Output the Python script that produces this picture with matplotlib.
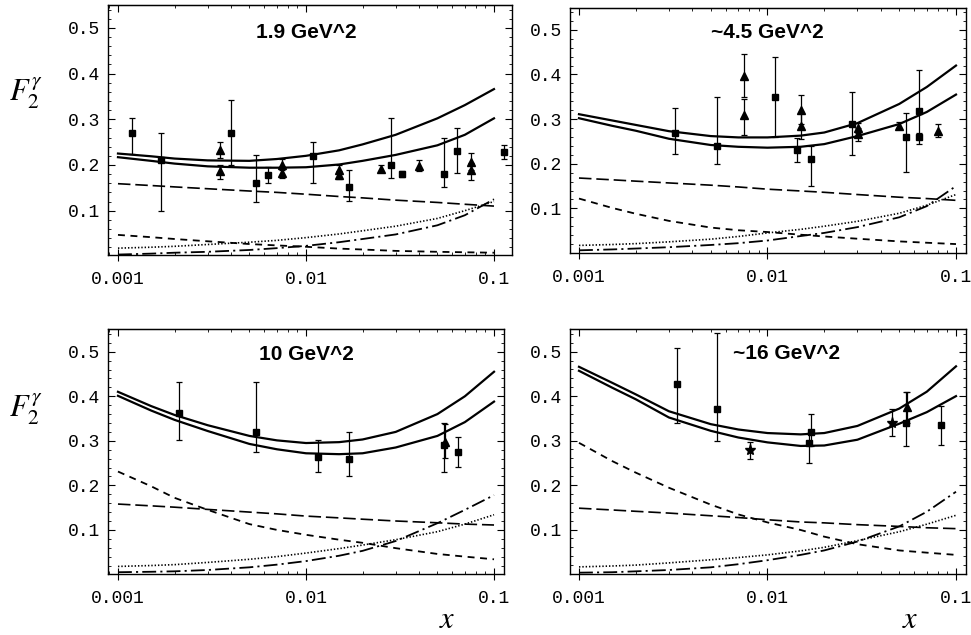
import matplotlib
matplotlib.use('Agg')
import matplotlib.pyplot as plt
from matplotlib.ticker import FixedLocator, NullFormatter, LogLocator, MultipleLocator, FixedFormatter
import numpy as np

plt.rcParams['lines.scale_dashes'] = False
plt.rcParams['mathtext.fontset'] = 'stix'

xg = [0.001, 0.0015, 0.002, 0.003, 0.005, 0.007, 0.01, 0.015, 0.02, 0.03, 0.05, 0.07, 0.1]

panel_labels = ['1.9 GeV^2', '~4.5 GeV^2', '10 GeV^2', '~16 GeV^2']

# theory curves, one list per panel
upper = [
    [.225, .219, .214, .210, .209, .213, .220, .232, .245, .266, .302, .331, .366],
    [.311, .297, .287, .273, .262, .259, .259, .263, .270, .291, .334, .372, .420],
    [.410, .378, .358, .335, .311, .301, .295, .297, .303, .320, .360, .400, .455],
    [.466, .430, .404, .366, .337, .325, .317, .314, .317, .333, .372, .410, .467],
]
lower = [
    [.217, .209, .203, .197, .194, .194, .195, .201, .209, .222, .243, .266, .302],
    [.302, .285, .274, .256, .242, .238, .236, .238, .244, .262, .289, .316, .355],
    [.401, .368, .347, .322, .293, .281, .272, .270, .272, .285, .311, .342, .388],
    [.457, .419, .393, .352, .322, .307, .296, .288, .289, .302, .338, .364, .400],
]
long_dash = [
    [.159, .155, .152, .148, .143, .140, .136, .131, .128, .123, .118, .114, .110],
    [.168, .164, .161, .157, .152, .148, .143, .139, .136, .131, .125, .122, .118],
    [.158, .154, .151, .146, .140, .136, .131, .127, .124, .120, .116, .113, .111],
    [.148, .144, .141, .137, .131, .127, .122, .117, .115, .111, .107, .104, .102],
]
short_dash = [
    [.047, .042, .038, .033, .027, .024, .021, .017, .015, .012, .010, .009, .008],
    [.122, .101, .088, .072, .057, .051, .047, .041, .037, .032, .026, .023, .020],
    [.231, .198, .172, .145, .113, .100, .089, .078, .071, .059, .046, .040, .034],
    [.295, .254, .228, .194, .156, .134, .116, .099, .084, .067, .053, .048, .043],
]
dotted = [
    [.018, .020, .022, .026, .031, .035, .041, .049, .056, .066, .083, .100, .120],
    [.017, .019, .021, .025, .031, .037, .045, .053, .060, .071, .089, .107, .131],
    [.018, .020, .022, .027, .034, .040, .048, .058, .066, .078, .096, .113, .134],
    [.016, .018, .020, .025, .032, .037, .043, .052, .060, .075, .095, .112, .132],
]
dash_dot = [
    [.004, .006, .008, .010, .014, .018, .023, .031, .038, .048, .068, .090, .125],
    [.006, .008, .010, .013, .018, .022, .028, .038, .045, .058, .080, .105, .150],
    [.005, .006, .007, .010, .016, .022, .030, .042, .053, .075, .115, .145, .178],
    [.003, .004, .006, .009, .015, .022, .031, .043, .053, .073, .107, .140, .185],
]

# data points: squares
sq_x = [
    [0.00119, 0.0017, 0.00397, 0.0054, 0.0063, 0.0109, 0.017, 0.0282, 0.0325, 0.0542, 0.0638, 0.113],
    [0.00322, 0.00542, 0.01096, 0.01435, 0.0171, 0.0281, 0.0545, 0.0634, 0.064],
    [0.0021, 0.0054, 0.01164, 0.017, 0.0544, 0.0646],
    [0.00331, 0.00542, 0.0166, 0.0171, 0.0545, 0.083],
]
sq_y = [
    [0.269, 0.211, 0.270, 0.161, 0.178, 0.220, 0.151, 0.200, 0.180, 0.180, 0.231, 0.229],
    [0.269, 0.239, 0.349, 0.231, 0.210, 0.290, 0.260, 0.319, 0.260],
    [0.362, 0.319, 0.263, 0.259, 0.291, 0.276],
    [0.427, 0.370, 0.294, 0.320, 0.339, 0.335],
]
sq_lo = [
    [0.224, 0.100, 0.200, 0.120, 0.161, 0.161, 0.121, 0.171, 0.174, 0.151, 0.182, 0.213],
    [0.222, 0.199, 0.260, 0.205, 0.151, 0.219, 0.181, 0.255, 0.244],
    [0.302, 0.276, 0.229, 0.221, 0.231, 0.241],
    [0.339, 0.299, 0.250, 0.288, 0.288, 0.290],
]
sq_hi = [
    [0.302, 0.270, 0.342, 0.222, 0.196, 0.251, 0.190, 0.302, 0.186, 0.260, 0.280, 0.244],
    [0.325, 0.349, 0.440, 0.257, 0.239, 0.360, 0.313, 0.410, 0.270],
    [0.433, 0.431, 0.302, 0.319, 0.339, 0.309],
    [0.508, 0.541, 0.318, 0.359, 0.410, 0.378],
]

# triangles
tr_x = [
    [0.00349, 0.00349, 0.0075, 0.0075, 0.015, 0.015, 0.025, 0.040, 0.0752, 0.0752],
    [0.0075, 0.0075, 0.015, 0.015, 0.0302, 0.0302, 0.0499, 0.080],
    [0.055],
    [0.055],
]
tr_y = [
    [0.233, 0.187, 0.200, 0.183, 0.190, 0.178, 0.192, 0.198, 0.207, 0.189],
    [0.396, 0.310, 0.321, 0.285, 0.280, 0.267, 0.285, 0.274],
    [0.298],
    [0.375],
]
tr_lo = [
    [0.215, 0.169, 0.188, 0.171, 0.180, 0.170, 0.185, 0.186, 0.190, 0.167],
    [0.349, 0.265, 0.290, 0.255, 0.268, 0.250, 0.277, 0.259],
    [0.262],
    [0.339],
]
tr_hi = [
    [0.251, 0.200, 0.212, 0.195, 0.200, 0.186, 0.199, 0.210, 0.227, 0.205],
    [0.446, 0.345, 0.353, 0.315, 0.292, 0.280, 0.293, 0.289],
    [0.338],
    [0.410],
]

# stars (only in the last panel)
st_x = [0.00804, 0.0457]
st_y = [0.279, 0.340]
st_lo = [0.258, 0.310]
st_hi = [0.297, 0.370]

W, H = 971, 635
fig = plt.figure(figsize=(W / 100, H / 100), dpi=100)

# panel boxes in pixels: left, top, right, bottom
boxes = [(108, 5, 512, 255), (570, 8, 966, 253), (108, 329, 504, 574), (570, 329, 966, 574)]
ylims = [(0.003, 0.55), (0.0, 0.549), (0.001, 0.551), (0.0, 0.551)]
xlims = [(0.000885, 0.1247), (0.000896, 0.113), (0.000885, 0.113), (0.000896, 0.113)]
title_pos = [(0.01, 0.489), (0.01, 0.493), (0.01, 0.493), (0.0127, 0.497)]

mono = 'Liberation Mono'

def errbar(ax, x, y, lo, hi, fmt, ms):
    x = np.array(x); y = np.array(y); lo = np.array(lo); hi = np.array(hi)
    ax.errorbar(x, y, yerr=[y - lo, hi - y], fmt=fmt, ms=ms, color='k', mec='k',
                ecolor='k', elinewidth=0.9, capsize=2.2, capthick=0.9, zorder=5)

for i in range(4):
    l, t, r, b = boxes[i]
    ax = fig.add_axes([l / W, 1 - b / H, (r - l) / W, (b - t) / H])
    ax.set_xscale('log')
    ax.set_xlim(*xlims[i])
    ax.set_ylim(*ylims[i])

    ax.plot(xg, upper[i], color='k', lw=1.6)
    ax.plot(xg, lower[i], color='k', lw=1.6)
    ax.plot(xg, long_dash[i], color='k', lw=1.2, dashes=(9, 3.5))
    ax.plot(xg, short_dash[i], color='k', lw=1.3, dashes=(5, 4))
    ax.plot(xg, dotted[i], color='k', lw=1.2, dashes=(1.0, 1.4))
    ax.plot(xg, dash_dot[i], color='k', lw=1.3, dashes=(10, 3, 1.5, 3))

    errbar(ax, sq_x[i], sq_y[i], sq_lo[i], sq_hi[i], 's', 5)
    errbar(ax, tr_x[i], tr_y[i], tr_lo[i], tr_hi[i], '^', 6)
    if i == 3:
        errbar(ax, st_x, st_y, st_lo, st_hi, '*', 8)

    tx, ty = title_pos[i]
    ax.text(tx, ty, panel_labels[i], ha='center', va='center', fontsize=15,
            fontweight='bold', family='Liberation Sans')

    # ticks
    ax.xaxis.set_major_locator(FixedLocator([0.001, 0.01, 0.1]))
    ax.xaxis.set_major_formatter(FixedFormatter(['0.001', '0.01', '0.1']))
    ax.xaxis.set_minor_locator(LogLocator(base=10, subs=np.arange(2, 10)))
    ax.xaxis.set_minor_formatter(NullFormatter())
    ax.yaxis.set_major_locator(FixedLocator([0.1, 0.2, 0.3, 0.4, 0.5]))
    ax.yaxis.set_major_formatter(FixedFormatter(['0.1', '0.2', '0.3', '0.4', '0.5']))
    ax.yaxis.set_minor_locator(MultipleLocator(0.02))
    ax.tick_params(axis='x', which='major', direction='inout', length=9, width=0.8,
                   top=False, labelsize=13, pad=7)
    ax.tick_params(axis='x', which='minor', direction='in', length=2.5, width=0.6, top=False)
    ax.tick_params(axis='y', which='major', direction='in', length=5, width=0.8,
                   right=True, labelsize=13, pad=6)
    ax.tick_params(axis='y', which='minor', direction='in', length=2.5, width=0.6, right=True)
    for lab in ax.get_xticklabels() + ax.get_yticklabels():
        lab.set_family(mono)

    top = ax.secondary_xaxis('top')
    top.xaxis.set_major_locator(FixedLocator([0.001, 0.01, 0.1]))
    top.xaxis.set_minor_locator(LogLocator(base=10, subs=np.arange(2, 10)))
    top.xaxis.set_major_formatter(NullFormatter())
    top.xaxis.set_minor_formatter(NullFormatter())
    top.tick_params(which='major', direction='in', length=5, width=0.8)
    top.tick_params(which='minor', direction='in', length=2.5, width=0.6)

    for sp in ax.spines.values():
        sp.set_linewidth(1.0)

# axis labels
fig.text(26 / W, 1 - 93 / H, r'$F_2^\gamma$', ha='center', va='center', fontsize=22)
fig.text(26 / W, 1 - 409 / H, r'$F_2^\gamma$', ha='center', va='center', fontsize=22)
fig.text(447 / W, 1 - 620 / H, r'$x$', ha='center', va='center', fontsize=22)
fig.text(910 / W, 1 - 620 / H, r'$x$', ha='center', va='center', fontsize=22)

fig.savefig('out.png', dpi=100)
